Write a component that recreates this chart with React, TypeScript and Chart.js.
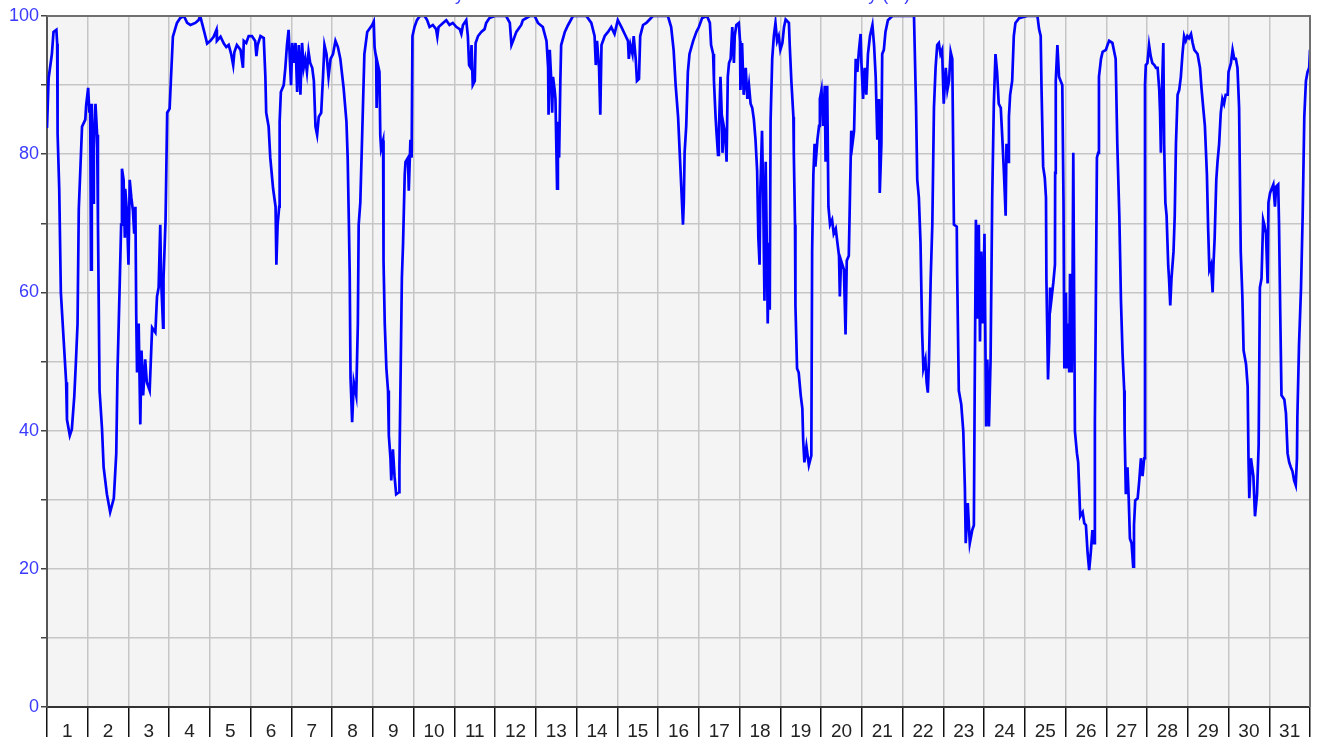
import React, { useEffect, useRef } from 'react';
import { Chart, registerables } from 'chart.js';

Chart.register(...registerables);

const TITLE = 'Humidity for the whole month - Outside Air Relative Humidity (%)';

const dayLabels = ['1', '2', '3', '4', '5', '6', '7', '8', '9', '10', '11', '12', '13', '14', '15', '16',
  '17', '18', '19', '20', '21', '22', '23', '24', '25', '26', '27', '28', '29', '30', '31'];

const yLabelValues = [0, 20, 40, 60, 80, 100];

// time in days since the start of day 1, humidity in %
const timeWeek1 = [0.00,0.04,0.12,0.16,0.23,0.25,0.26,0.30,0.34,0.41,
  0.47,0.49,0.56,0.61,0.67,0.71,0.75,0.78,0.82,0.86,
  0.94,0.96,1.01,1.04,1.06,1.08,1.10,1.13,1.15,1.19,
  1.23,1.25,1.29,1.35,1.39,1.47,1.55,1.64,1.70,1.73,
  1.78,1.82,1.84,1.88,1.91,1.92,1.96,2.00,2.03,2.07,
  2.11,2.14,2.17,2.19,2.21,2.25,2.29,2.32,2.36,2.41,
  2.45,2.52,2.58,2.66,2.70,2.74,2.78,2.80,2.85,2.86,
  2.91,2.95,3.01,3.04,3.09,3.19,3.27,3.36,3.44,3.52,
  3.64,3.72,3.76,3.83,3.89,3.93,4.01,4.09,4.16,4.17,
  4.26,4.34,4.40,4.46,4.52,4.57,4.60,4.66,4.75,4.81,
  4.83,4.89,4.95,5.03,5.11,5.14,5.17,5.24,5.32,5.36,
  5.38,5.44,5.48,5.55,5.61,5.63,5.66,5.70,5.71,5.74,
  5.81,5.85,5.89,5.93,5.96,5.99,6.02,6.06,6.10,6.14,
  6.18,6.22,6.26,6.30,6.34,6.38,6.42,6.46,6.51,6.55,
  6.59,6.63,6.67,6.73,6.78,6.81,6.86,6.91,6.96,7.02,
  7.08,7.14,7.20,7.28,7.35,7.38,7.41,7.43,7.45,7.49,
  7.53,7.59,7.63,7.65,7.69,7.73,7.79,7.86,7.98];
const humidityWeek1 = [83.8,91,94.5,97.7,98,96,83,75,60,53,
  47,41.6,39.3,40.2,45,50,55.5,72,78,84,
  85,87,89.6,86,87.3,63.3,87.3,73,80.8,87.3,
  82.8,70.5,45.8,40.3,34.7,30.8,28.2,30.2,36.7,48.4,
  60,69.8,77.9,76.3,67.9,75,71.8,64,76.3,73.7,
  71.8,68.5,72.4,56.8,48.4,55.5,40.9,51.6,45.1,50.3,
  47,45.8,54.9,54.2,59.4,60.7,69.8,62,54.9,62,
  70.5,86,86.6,90.6,97,99,99.7,100,99,98.7,
  99,99.4,100,98.4,97,96,96.4,97,98,96.4,
  97,96,95.5,95.8,94.5,92.9,94.8,95.8,95.1,92.5,
  96.4,96.1,97.1,97.1,96.4,94.2,95.8,97.1,96.8,91.2,
  86,84,79.5,75,72.4,64,69.8,72.4,84.7,89,
  90,92.5,95.8,98,93.8,90,96.1,93.2,96.1,89,
  95.8,88.6,96.1,92.5,93.8,91.9,94.8,93.2,92.5,90.6,
  84,82.8,85.4,86,91.9,95.8,94.5,91.2,93.8,94.5,
  96.4,95.5,93.8,89.6,84.7,79.5,69.8,62.7,47.7,41.2,
  47,45.1,55.5,69.8,73,81.5,94.5,97.7,98.7];

const timeWeek2 = [8.02,8.04,8.08,8.09,8.12,8.16,8.18,8.20,8.25,8.26,
  8.29,8.33,8.37,8.39,8.43,8.45,8.49,8.53,8.57,8.64,
  8.65,8.67,8.71,8.74,8.78,8.80,8.86,8.88,8.92,8.95,
  8.97,9.02,9.08,9.15,9.27,9.33,9.39,9.47,9.55,9.58,
  9.61,9.72,9.80,9.88,9.96,10.05,10.13,10.17,10.21,10.29,
  10.33,10.36,10.40,10.42,10.45,10.50,10.52,10.58,10.66,10.74,
  10.78,10.86,10.99,11.27,11.36,11.40,11.44,11.52,11.64,11.68,
  11.85,11.97,12.05,12.17,12.26,12.30,12.31,12.34,12.38,12.40,
  12.42,12.46,12.48,12.52,12.54,12.57,12.60,12.62,12.71,12.79,
  12.91,13.24,13.36,13.44,13.47,13.50,13.55,13.58,13.61,13.69,
  13.77,13.85,13.93,14.01,14.10,14.18,14.26,14.28,14.32,14.37,
  14.40,14.45,14.48,14.53,14.56,14.63,14.71,14.79,14.87,15.24,
  15.32,15.38,15.43,15.49,15.53,15.57,15.61,15.63,15.65,15.69,
  15.73,15.77,15.86,15.94];
const humidityWeek2 = [99.2,95.5,93.8,86.7,93,91.9,82.8,80.8,82,64.6,
  55.5,49,45.8,39.3,36,32.8,37.3,33.4,30.8,31.1,
  34.7,43.8,62,67.2,77,78.9,79.5,74.7,82.1,79.5,
  97.1,98.4,99.4,100,100,99.4,98.4,98.7,98.1,97,
  98.4,99,99.4,98.7,99,98.4,98.1,97.4,98.7,99.4,
  97.1,92.9,92.5,95.8,90,90.6,96.1,97.1,97.7,98.1,
  99,99.7,100,100,99,95.8,96.4,97.7,98.7,99.4,
  100,100,99,98.4,96.4,92.5,85.7,95.1,90.3,86,
  91.2,89.3,88,75,84.7,79.5,90.6,95.8,97.7,98.7,
  100,100,99,97.1,92.9,96.4,92.5,85.7,95.8,97.1,
  97.7,98.4,97.4,99.4,98.4,97.4,96.4,93.8,95.8,94.5,
  97.1,93.8,90.6,90.9,97.1,98.7,99,99.5,100,100,
  98.4,95.1,90,85.4,80.2,75,69.8,73,80.2,84.1,
  91.9,94.5,96.4,97.7];

const timeWeek3 = [16.00,16.08,16.20,16.27,16.30,16.35,16.37,16.41,16.43,16.47,
  16.49,16.53,16.56,16.58,16.61,16.65,16.68,16.71,16.74,16.78,
  16.82,16.86,16.88,16.92,16.98,17.01,17.02,17.06,17.10,17.15,
  17.19,17.23,17.27,17.31,17.35,17.39,17.43,17.46,17.49,17.51,
  17.55,17.58,17.61,17.64,17.66,17.69,17.72,17.74,17.76,17.80,
  17.84,17.88,17.92,17.96,18.00,18.05,18.09,18.13,18.21,18.23,
  18.27,18.32,18.33,18.36,18.37,18.41,18.45,18.50,18.54,18.56,
  18.59,18.64,18.70,18.76,18.78,18.81,18.84,18.86,18.91,18.95,
  18.97,19.01,19.05,19.09,19.11,19.15,19.18,19.22,19.27,19.31,
  19.36,19.40,19.44,19.46,19.49,19.56,19.60,19.63,19.68,19.71,
  19.74,19.77,19.81,19.85,19.89,19.93,19.97,19.99,20.03,20.07,
  20.11,20.15,20.20,20.26,20.30,20.34,20.38,20.42,20.44,20.48,
  20.50,20.54,20.58,20.64,20.75,21.28,21.33,21.36,21.40,21.44,
  21.48,21.51,21.56,21.59,21.62,21.65,21.69,21.73,21.77,21.81,
  21.85,21.89,21.93,21.97,22.01,22.06,22.10,22.14,22.18,22.22,
  22.26,22.33,22.34,22.38,22.44,22.49,22.53,22.55,22.60,22.65,
  22.71,22.75,22.77,22.80,22.83,22.87,22.90,22.93,22.97,23.01,
  23.05,23.08,23.12,23.16,23.20,23.24,23.28,23.32,23.36,23.41,
  23.45,23.49,23.53,23.55,23.59,23.61,23.64,23.69,23.73,23.77,
  23.86];
const humidityWeek3 = [98.4,99.7,100,99,95.8,94.5,90.6,85.4,83.4,79.9,
  82.8,91.2,86,80.2,84.1,82.8,78.9,91.2,93.2,93.8,
  98.4,93.2,97.1,98.7,99,96.4,89.3,96.1,88.6,92.5,
  88,90,87.3,86.7,85,82.1,77.6,67.9,64,75,
  83.4,73.7,58.8,78.9,70.1,55.5,67.2,57.5,84.7,93.8,
  97.1,99,96.4,97.1,95.1,96.1,98.4,99.5,99,95.8,
  90.6,85.4,80.2,69.8,58.1,49,48.4,45.1,43.2,38.6,
  35.4,37.7,35,36.4,65.9,77,81.5,78.2,82.1,84.1,
  88,89.3,84.1,89.9,78.9,89.9,72.4,69.8,70.5,68.5,
  69.2,67.2,65.3,59.4,64.6,63.3,53.9,64.6,65.3,74.4,
  83.4,81.5,83.4,93.8,91.9,95.1,97.4,93.2,88,92.5,
  88.6,94.5,97.1,98.7,95.8,91.2,82.1,88,74.4,81.5,
  94.5,95.1,97.7,99.4,100,100,87,76.3,73.7,67.2,
  54.2,49,50.3,47,45.5,50.6,62,69.8,86.7,92.5,
  95.8,96.1,94.5,95.1,87.3,92.5,89.3,90.6,94.8,93.8,
  69.8,69.5,62.7,45.8,43.8,39.9,31.5,23.7,29.5,23.7,
  25.6,26.3,45.8,70.5,56.2,69.8,52.9,65.9,55.5,68.5,
  40.6,50.3,40.6,50.3,73.7,87.3,94.5,91.9,87.3,86.7,
  82.1,77,71.1,81.5,78.9,85.4,88.6,90.6,97.1,99,
  99.7];

const timeWeek4 = [24.06,24.31,24.35,24.39,24.41,24.45,24.49,24.52,24.53,24.57,
  24.60,24.62,24.65,24.70,24.74,24.745,24.76,24.80,24.84,24.88,
  24.92,24.95,24.97,25.01,25.03,25.06,25.09,25.11,25.15,25.17,
  25.19,25.23,25.28,25.31,25.36,25.42,25.46,25.50,25.54,25.58,
  25.62,25.66,25.70,25.72,25.74,25.77,25.80,25.82,25.87,25.91,
  25.99,26.03,26.07,26.15,26.23,26.27,26.32,26.36,26.40,26.44,
  26.45,26.48,26.52,26.55,26.58,26.62,26.66,26.68,26.71,26.77,
  26.81,26.85,26.89,26.93,26.95,26.97,27.01,27.05,27.09,27.13,
  27.18,27.22,27.26,27.30,27.32,27.34,27.36,27.40,27.42,27.45,
  27.48,27.52,27.54,27.57,27.60,27.65,27.68,27.71,27.75,27.79,
  27.83,27.87,27.91,27.95,27.99,28.03,28.08,28.12,28.16,28.24,
  28.30,28.34,28.39,28.42,28.47,28.50,28.53,28.57,28.61,28.63,
  28.66,28.70,28.73,28.77,28.81,28.85,28.89,28.93,28.98,29.00,
  29.06,29.10,29.14,29.18,29.22,29.26,29.30,29.34,29.37,29.43,
  29.47,29.49,29.51,29.55,29.61,29.65,29.70,29.74,29.77,29.81,
  29.85,29.88,29.92,29.96,29.98,30.02,30.06,30.10,30.14,30.17,
  30.22,30.24,30.27,30.30,30.37,30.41,30.45,30.49,30.53,30.57,
  30.61,30.65,30.68,30.69,30.73,30.78,30.82,30.86,
  30.90,30.94,30.98,31.00];
const humidityWeek4 = [100,100,98.1,97.1,89.6,78.2,76.6,73.7,62,47.4,
  52.9,60.7,58.8,61.4,64,77.3,90.6,95.8,91.2,90.6,
  90,73,49,60,49,55.5,48.4,62.7,48.4,58.8,
  80.2,39.9,36.7,35.4,27.6,28.2,26.6,26.3,22.4,19.8,
  22.4,25.6,23.7,41.2,55.5,79.5,80.2,91.2,93.8,94.8,
  95.1,95.8,96.4,96.1,93.8,81.5,71.1,58.8,51,45.8,
  39.9,30.8,34.7,30.2,24.4,23.7,20.3,26.3,29.9,30.2,
  32.8,36,33.4,36,90,92.9,93.2,95.8,94.2,93.2,
  92.9,92.5,92.5,89.3,86,80.2,88,96.1,81.5,73,
  71.1,63.9,62,58.1,62,65.9,71.1,81.5,88.6,89.3,
  91.2,94.5,97.1,96.4,97.1,96.8,97.4,96.1,95.1,94.5,
  92.5,89.3,86,84.1,77,69.2,63.3,64,60,63.9,
  67.9,76.3,78.9,81.5,86,88,87.3,88.6,88.6,91.9,
  93.2,95.1,93.8,93.8,92.5,86.7,65.9,59.4,51.6,49.6,
  46.4,36,30.2,36,33.4,27.6,30.8,38,60.7,62,
  70.5,69.8,68.5,61.3,73,74.4,75,75.6,72.4,75.3,
  75.6,69.8,56.8,45.1,44.5,42.5,36.7,35.4,34.7,34.1,
  32.8,32.1,36,41.9,52.3,60.7,71.1,85.4,
  90.6,91.9,92.5,95.1];

const FONT = '"Liberation Sans", Arial, sans-serif';
const BLUE_TEXT = '#3b3bff';

function buildPoints() {
  const times = [...timeWeek1, ...timeWeek2, ...timeWeek3, ...timeWeek4];
  const values = [...humidityWeek1, ...humidityWeek2, ...humidityWeek3, ...humidityWeek4];
  const n = Math.min(times.length, values.length);
  const pts: { x: number; y: number }[] = [];
  for (let i = 0; i < n; i++) pts.push({ x: times[i], y: values[i] });
  return pts;
}

const framePlugin = {
  id: 'frameAndTitle',
  beforeDraw(chart: any) {
    const { ctx, chartArea: a } = chart;
    ctx.save();
    ctx.fillStyle = '#f4f4f4';
    ctx.fillRect(a.left, a.top, a.right - a.left, a.bottom - a.top);
    ctx.restore();
  },
  afterDraw(chart: any) {
    const { ctx, chartArea: a } = chart;
    ctx.save();
    ctx.strokeStyle = '#707070';
    ctx.lineWidth = 2;
    ctx.beginPath();
    ctx.moveTo(a.left, a.top);
    ctx.lineTo(a.right, a.top);
    ctx.lineTo(a.right, a.bottom);
    ctx.stroke();
    ctx.font = '18px ' + FONT;
    ctx.fillStyle = BLUE_TEXT;
    ctx.textAlign = 'left';
    ctx.textBaseline = 'alphabetic';
    const lead = ctx.measureText('Humidit').width;
    ctx.fillText(TITLE, a.left + 408 - lead, 0);
    ctx.restore();
  },
};

export default function App() {
  const ref = useRef<HTMLCanvasElement | null>(null);

  useEffect(() => {
    if (!ref.current) return;
    Chart.defaults.font.family = FONT;
    const chart = new Chart(ref.current, {
      type: 'line',
      data: {
        datasets: [
          {
            label: 'Relative Humidity (%)',
            data: buildPoints(),
            borderColor: '#0000ff',
            borderWidth: 2.7,
            pointRadius: 0,
            tension: 0,
            fill: false,
          },
        ],
      },
      options: {
        animation: false,
        responsive: false,
        maintainAspectRatio: false,
        devicePixelRatio: 1,
        layout: { padding: { top: 16, right: 9, left: 0, bottom: 0 } },
        plugins: { legend: { display: false }, tooltip: { enabled: false }, title: { display: false } },
        scales: {
          x: {
            type: 'linear',
            min: 0,
            max: 31,
            position: 'bottom',
            ticks: {
              stepSize: 1,
              autoSkip: false,
              maxRotation: 0,
              minRotation: 0,
              labelOffset: 20.4,
              padding: -17,
              color: '#222',
              font: { size: 19, family: FONT },
              callback: (v: any) => dayLabels[Math.round(Number(v))] ?? '',
            },
            grid: {
              color: '#c6c6c6',
              lineWidth: 1.5,
              tickLength: 30,
              tickColor: '#111',
              tickWidth: 1.5,
            },
            border: { color: '#333', width: 2 },
            afterFit: (scale: any) => { scale.height = 40; },
          },
          y: {
            min: 0,
            max: 100,
            ticks: {
              stepSize: 10,
              padding: 2,
              color: BLUE_TEXT,
              font: { size: 18, family: FONT },
              callback: (v: any) => (yLabelValues.includes(Number(v)) ? String(v) : ''),
            },
            grid: {
              color: '#c6c6c6',
              lineWidth: 1.5,
              tickLength: 6,
              tickColor: '#444',
            },
            border: { color: '#555', width: 2 },
            afterFit: (scale: any) => { scale.width = 47; },
          },
        },
      },
      plugins: [framePlugin],
    });
    return () => chart.destroy();
  }, []);

  return (
    <div style={{ position: 'fixed', left: 0, top: 0, width: 1319, height: 747, background: '#fff' }}>
      <canvas ref={ref} width={1319} height={747} style={{ display: 'block', width: 1319, height: 747 }} />
    </div>
  );
}
